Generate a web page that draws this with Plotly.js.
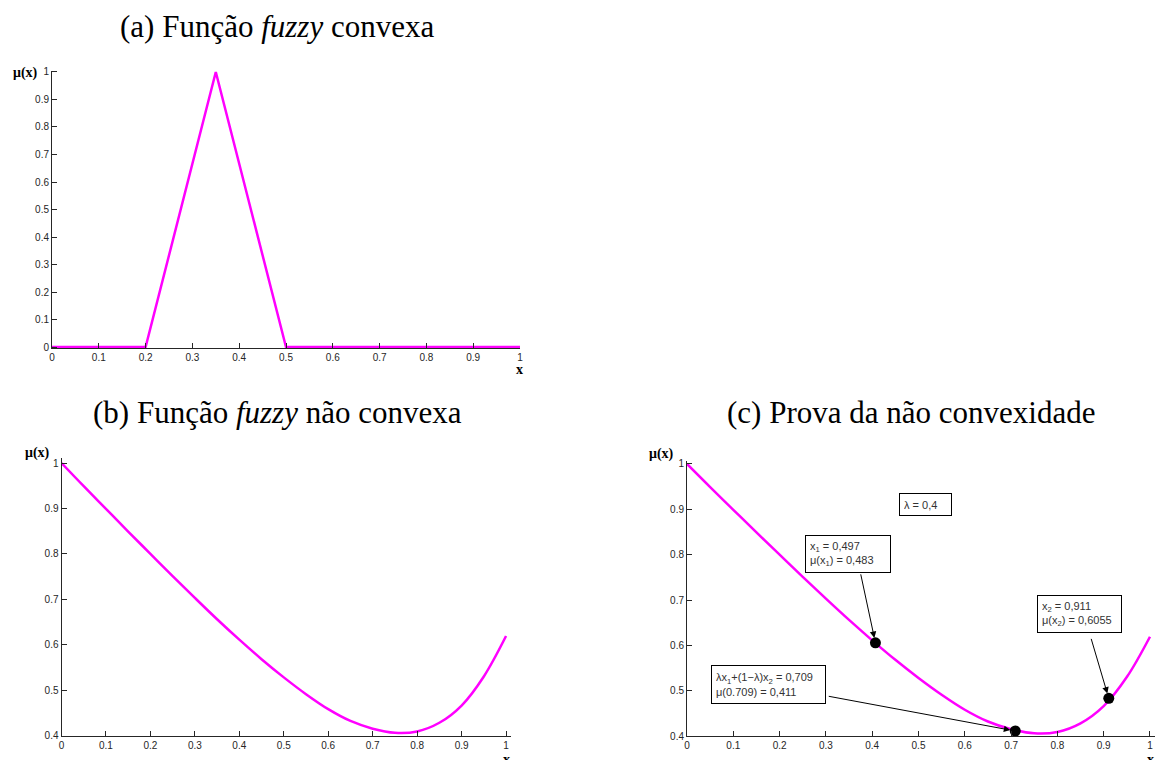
<!DOCTYPE html>
<html><head><meta charset="utf-8">
<script src="https://cdn.plot.ly/plotly-3.0.1.min.js"></script>
<style>html,body{margin:0;padding:0;background:#fff}#chart{width:1155px;height:760px}</style>
</head><body><div id="chart"></div>
<script>
// ---- data ----
const triX = [0, 0.2, 0.35, 0.5, 1];
const triY = [0, 0, 1, 0, 0];
const curveX = [0, 0.05, 0.1, 0.15, 0.2, 0.25, 0.3, 0.35, 0.4, 0.45, 0.5, 0.55, 0.6, 0.65, 0.7, 0.75, 0.8, 0.85, 0.9, 0.95, 1];
const curveY = [1.000, 0.949, 0.899, 0.849, 0.800, 0.751, 0.703, 0.656, 0.611, 0.568, 0.528, 0.491, 0.458, 0.432, 0.415, 0.406, 0.409, 0.428, 0.466, 0.530, 0.619];
const ptX = [0.407, 0.709, 0.911];
const ptY = [0.6055, 0.411, 0.483];
const titles = ['(a) Função <i>fuzzy</i> convexa', '(b) Função <i>fuzzy</i> não convexa', '(c) Prova da não convexidade'];
const boxTexts = ['λ = 0,4', 'x<sub>1</sub> = 0,497<br>μ(x<sub>1</sub>) = 0,483', 'x<sub>2</sub> = 0,911<br>μ(x<sub>2</sub>) = 0,6055', 'λx<sub>1</sub>+(1−λ)x<sub>2</sub> = 0,709<br>μ(0.709) = 0,411'];

// ---- layout helpers ----
const W = 1155, H = 760;
const px = v => v / W, py = v => 1 - v / H;
const AX = '#262626';
function axis(domain, range, dtick, anchor) {
  return {domain: domain, range: range, dtick: dtick, tick0: 0, anchor: anchor,
    ticks: 'inside', ticklen: 5, tickwidth: 1, tickcolor: AX,
    showline: true, linecolor: AX, linewidth: 1, showgrid: false, zeroline: false,
    tickfont: {family: 'Liberation Sans, Arial, sans-serif', size: 10, color: AX}, fixedrange: true};
}
const magenta = {color: '#ff00ff', width: 2.5};
const data = [
  {x: triX, y: triY, type: 'scatter', mode: 'lines', line: magenta, xaxis: 'x', yaxis: 'y', hoverinfo: 'skip'},
  {x: curveX, y: curveY, type: 'scatter', mode: 'lines', line: Object.assign({shape: 'spline', smoothing: 1}, magenta), xaxis: 'x2', yaxis: 'y2', hoverinfo: 'skip'},
  {x: curveX, y: curveY, type: 'scatter', mode: 'lines', line: Object.assign({shape: 'spline', smoothing: 1}, magenta), xaxis: 'x3', yaxis: 'y3', hoverinfo: 'skip'},
  {x: ptX, y: ptY, type: 'scatter', mode: 'markers', marker: {color: '#000', size: 11}, xaxis: 'x3', yaxis: 'y3', hoverinfo: 'skip', cliponaxis: false}
];

const serif = 'Liberation Serif, Times New Roman, serif';
const ann = [];
function label(text, x, y, size, bold) {
  ann.push({text: bold ? '<b>' + text + '</b>' : text, xref: 'paper', yref: 'paper', x: px(x), y: py(y),
    xanchor: 'center', yanchor: 'middle', showarrow: false, font: {family: serif, size: size, color: '#000'}});
}
label(titles[0], 277, 27, 31, false);
label(titles[1], 277, 412, 31, false);
label(titles[2], 911, 412, 31, false);
label('μ(x)', 25, 73, 14, true);
label('μ(x)', 37, 453, 14, true);
label('μ(x)', 661, 454, 14, true);
label('x', 519, 369, 14, true);
label('x', 506, 759, 14, true);
label('x', 1150, 759, 14, true);

function box(text, left, top, w, h) {
  ann.push({text: text, xref: 'paper', yref: 'paper', x: px(left), y: py(top), xanchor: 'left', yanchor: 'top',
    align: 'left', valign: 'middle', showarrow: false, width: w, height: h, bgcolor: '#fff', bordercolor: '#000',
    borderwidth: 1, borderpad: 4, font: {family: 'Liberation Sans, Arial, sans-serif', size: 11, color: '#333'}});
}
box(boxTexts[0], 899, 493, 43, 13);
box(boxTexts[1], 805, 535, 76, 28);
box(boxTexts[2], 1037, 595, 75, 28);
box(boxTexts[3], 711, 665, 105, 29);

function arrow(i, dx, dy) {
  ann.push({text: '', xref: 'x3', yref: 'y3', x: ptX[i], y: ptY[i], ax: dx, ay: dy, showarrow: true,
    arrowhead: 2, arrowsize: 1.3, arrowwidth: 1, arrowcolor: '#000', standoff: 5});
}
arrow(0, -15, -70);
arrow(2, -18, -61);
arrow(1, -188, -35);

const layout = {
  width: W, height: H, margin: {l: 0, r: 0, t: 0, b: 0}, showlegend: false,
  paper_bgcolor: '#fff', plot_bgcolor: 'rgba(0,0,0,0)',
  xaxis: axis([px(52), px(520)], [0, 1], 0.1, 'y'),
  yaxis: axis([py(348.4), py(70.6)], [-0.005, 1.005], 0.1, 'x'),
  xaxis2: axis([px(61.5), px(510.5)], [0, 1.01], 0.1, 'y2'),
  yaxis2: axis([py(735.5), py(458)], [0.4, 1.011], 0.1, 'x2'),
  xaxis3: axis([px(687), px(1154.6)], [0, 1.01], 0.1, 'y3'),
  yaxis3: axis([py(736), py(461)], [0.4, 1.0066], 0.1, 'x3'),
  annotations: ann
};
Plotly.newPlot('chart', data, layout, {staticPlot: true, displayModeBar: false});
</script></body></html>
